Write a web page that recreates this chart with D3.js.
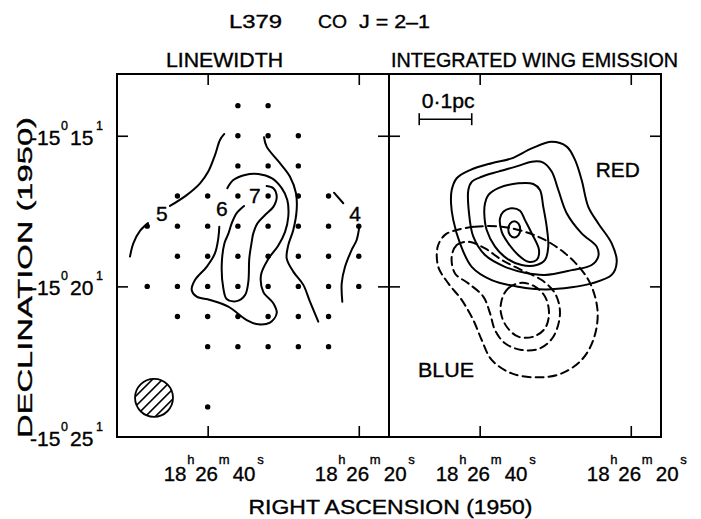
<!DOCTYPE html>
<html>
<head>
<meta charset="utf-8">
<script src="https://cdn.jsdelivr.net/npm/d3@7"></script>
<style>
  html, body { margin: 0; padding: 0; background: #fff; }
  svg { display: block; }
  text { font-family: "Liberation Sans Narrow", "Liberation Sans", "DejaVu Sans", sans-serif; fill: #000; stroke: #000; stroke-width: 0.35px; }
</style>
</head>
<body>
<div id="chart"></div>
<script>
// ---- data: RA in seconds of 18h26m, Dec in arcmin of -15 deg ----
const raDomain = [52, 16];
const decDomain = [12.95, 25];
const raTicks = [40, 20];
const decTicks = [15, 20];
const decLabels = [15, 20, 25];

// observed positions (linewidth map)
const obsRows = [
  [14, [36, 32]],
  [15, [36, 32, 28]],
  [16, [36, 32, 28]],
  [17, [44, 40, 36, 32, 28, 24]],
  [18, [48, 44, 40, 36, 32, 28, 24, 20]],
  [19, [44, 40, 36, 32, 28, 24, 20]],
  [20, [48, 44, 40, 36, 32, 28, 24, 20]],
  [21, [44, 40, 36, 32, 28, 24]],
  [22, [40, 36, 32, 28, 24]],
  [24, [40]]
];

// linewidth contours (km/s), open pieces split at the labels
const lw5a = [[37.80,14.94],[38.37,15.14],[39.03,15.64],[39.92,16.19],[41.01,16.58],[42.78,16.97],[44.99,17.33]];
const lw5b = [[47.90,17.90],[48.96,18.16],[49.84,18.57],[50.28,19.01]];
const lw5c = [[32.54,15.05],[32.19,15.36],[30.43,15.91],[29.10,16.36],[28.31,16.91],[28.22,17.46],[28.67,18.13],
  [29.33,18.63],[29.54,19.07],[28.67,19.51],[27.34,19.95],[26.46,20.51],[25.36,21.17]];
const lw6 = [[37.40,16.74],[36.61,16.47],[35.06,16.30],[33.30,16.27],[31.53,16.41],[30.20,16.74],[29.46,17.13],
  [29.33,17.69],[29.77,18.20],[30.69,18.66],[31.98,19.09],[32.94,19.62],[32.64,20.18],[31.31,20.56],[30.86,20.89],
  [31.75,21.20],[33.30,21.26],[34.83,21.12],[37.27,20.67],[39.69,20.45],[41.45,20.34],[42.11,20.12],[41.68,19.79],
  [40.13,19.35],[39.03,18.90],[38.59,18.40],[38.46,18.02]];
const lw7 = [[32.19,16.67],[31.31,16.74],[30.86,17.02],[31.31,17.36],[32.41,17.63],[33.43,17.91],[33.96,18.24],
  [34.17,18.52],[34.49,19.07],[34.62,19.85],[35.06,20.29],[36.16,20.49],[37.48,20.42],[37.93,20.06],[38.14,19.29],
  [37.77,18.56],[37.27,18.26],[36.82,17.91],[36.16,17.57],[35.19,17.33]];
const lw4a = [[23.28,16.89],[22.05,17.24]];
const lw4b = [[19.93,18.02],[20.28,18.46],[20.94,18.79],[21.82,19.35],[22.26,19.90],[22.18,20.51]];
const lwLabels = [["5", 46.08, 17.57], ["6", 38.14, 17.41], ["7", 33.74, 16.97], ["4", 20.50, 17.57]];

const beamCentre = [47.10, 23.70];
const beamRadius = 0.63; // arcmin

// integrated wing emission: red (solid) and blue (dashed) lobes
const red1 = [[43.70,16.80],[43.04,16.41],[41.28,16.14],[38.41,15.91],[35.76,15.75],[33.11,15.42],[30.47,15.20],
  [28.48,15.36],[27.38,15.80],[26.50,16.47],[25.62,17.36],[24.30,17.91],[22.53,18.57],[21.86,19.18],[22.53,19.62],
  [25.17,19.90],[27.82,20.03],[31.35,20.10],[34.89,20.01],[38.41,19.79],[41.05,19.35],[42.60,18.57],[43.49,17.80],[43.79,17.24]];
const red2 = [[41.50,16.80],[41.05,16.53],[39.73,16.36],[37.53,16.19],[34.89,16.00],[33.11,15.86],[31.58,15.89],
  [30.47,16.19],[29.59,16.80],[28.48,17.57],[26.50,18.24],[24.51,18.68],[24.30,19.01],[25.17,19.29],[27.82,19.46],
  [31.35,19.62],[34.00,19.55],[36.65,19.35],[39.29,18.96],[40.84,18.35],[41.41,17.57]];
const red3 = [[39.29,17.24],[38.86,16.97],[37.53,16.74],[34.89,16.58],[32.90,16.60],[32.02,16.80],[31.58,17.36],
  [31.13,18.02],[30.92,18.68],[31.35,19.12],[32.45,19.29],[34.44,19.29],[36.42,19.07],[37.97,18.68],[39.07,18.13],[39.39,17.57]];
const red4 = [[37.31,17.74],[36.87,17.52],[35.76,17.41],[34.66,17.49],[34.00,17.80],[33.11,18.24],[32.15,18.79],
  [32.45,19.12],[33.56,19.18],[34.89,18.96],[36.21,18.57],[37.08,18.19]];
const red5 = [[36.21,18.11],[35.98,17.92],[35.42,17.84],[34.86,17.92],[34.63,18.11],[34.86,18.30],[35.42,18.38],[35.98,18.30]];
const blue1 = [[43.04,18.13],[40.62,18.02],[37.08,18.02],[34.00,18.19],[31.35,18.46],[28.71,18.90],[26.50,19.46],
  [25.17,20.01],[24.38,20.89],[24.96,21.78],[26.50,22.44],[29.14,22.89],[32.24,23.02],[35.76,22.89],[38.41,22.44],
  [39.73,21.78],[40.84,21.12],[42.38,20.45],[44.15,19.90],[45.48,19.35],[45.55,18.68],[44.59,18.29]];
const blue2 = [[43.70,19.01],[43.04,18.63],[41.50,18.52],[39.29,18.74],[37.08,19.12],[34.44,19.46],[31.79,19.79],
  [30.03,20.23],[29.37,20.89],[30.25,21.67],[32.02,22.06],[34.44,22.11],[36.65,21.89],[37.97,21.45],[38.63,20.89],
  [39.52,20.34],[41.50,19.90],[43.26,19.57]];
const blue3 = [[37.08,20.45],[36.21,20.06],[34.44,19.88],[32.68,20.01],[31.35,20.34],[30.82,20.89],[31.35,21.39],
  [32.90,21.67],[34.89,21.67],[36.42,21.34],[37.18,20.89]];
const redContours = [red1, red2, red3, red4, red5];
const blueContours = [blue1, blue2, blue3];

const scaleBarRA = [48.0, 41.05];
const scaleBarDec = 14.45;
const wingLabels = [["RED", 24.64, 16.37, 44], ["BLUE", 48.16, 23.01, 56], ["0\u00b71pc", 47.67, 14.08, 53]];

// ---- layout ----
const W = 701, H = 519;
const panelW = 272, panelH = 363, panelTop = 74;
const panels = [117, 389];

const x = d3.scaleLinear().domain(raDomain).range([0, panelW]);
const y = d3.scaleLinear().domain(decDomain).range([0, panelH]);

const openLine = d3.line().x(d => x(d[0])).y(d => y(d[1])).curve(d3.curveCatmullRom.alpha(0.5));
const closedLine = d3.line().x(d => x(d[0])).y(d => y(d[1])).curve(d3.curveCatmullRomClosed.alpha(0.5));

const svg = d3.select('#chart').append('svg').attr('width', W).attr('height', H);

function addText(parent, str, px, py, size, width, anchor) {
  const t = parent.append('text')
    .attr('x', px).attr('y', py)
    .style('font-size', size + 'px')
    .attr('text-anchor', anchor || 'start')
    .text(str);
  if (width) t.attr('textLength', width).attr('lengthAdjust', 'spacingAndGlyphs');
  return t;
}

// one text element, pieces placed with absolute x; superscripts raised
function richText(parent, py, pieces, mainSize, supSize, rise) {
  const t = parent.append('text').attr('y', py).style('font-size', mainSize + 'px');
  let raised = false;
  pieces.forEach(([s, px, sup]) => {
    const dy = sup === raised ? 0 : (sup ? -rise : rise);
    raised = sup;
    t.append('tspan').attr('x', px).attr('dy', dy)
      .style('font-size', (sup ? supSize : mainSize) + 'px').text(s);
  });
  return t;
}

function drawFrame(g) {
  const axes = [
    [d3.axisTop(x).tickValues(raTicks), 0, 0],
    [d3.axisBottom(x).tickValues(raTicks), 0, panelH],
    [d3.axisLeft(y).tickValues(decTicks), 0, 0],
    [d3.axisRight(y).tickValues(decTicks), panelW, 0]
  ];
  axes.forEach(([ax, tx, ty]) => {
    const a = g.append('g')
      .attr('transform', `translate(${tx},${ty})`)
      .call(ax.tickSize(-11).tickFormat(''));
    a.select('.domain').remove();
    a.selectAll('text').remove();
    a.selectAll('line').attr('stroke', '#000').attr('stroke-width', 1.6);
  });
  g.append('rect')
    .attr('width', panelW).attr('height', panelH)
    .attr('fill', 'none').attr('stroke', '#000').attr('stroke-width', 2);
}

function contour(g, pts, closed, dashed) {
  g.append('path')
    .attr('d', closed ? closedLine(pts) : openLine(pts))
    .attr('fill', 'none')
    .attr('stroke', '#000')
    .attr('stroke-width', 2)
    .attr('stroke-linecap', 'round')
    .attr('stroke-dasharray', dashed ? '8 5' : null);
}

// ---- titles ----
addText(svg, 'L379', 229, 28.3, 17.5, 53);
addText(svg, 'CO', 318, 28.3, 17.5, 29);
addText(svg, 'J = 2\u20131', 359, 28.3, 17.5, 71);
addText(svg, 'LINEWIDTH', 166, 66.7, 19.5, 117);
addText(svg, 'INTEGRATED WING EMISSION', 391, 66.7, 19.5, 287);
addText(svg, 'RIGHT  ASCENSION  (1950)', 248.5, 514, 19.5, 284);
addText(svg, 'DECLINATION  (1950)', 0, 0, 20, 321, 'middle')
  .attr('transform', 'translate(32,277.5) rotate(-90)');

// ---- left panel: linewidth ----
const gL = svg.append('g').attr('transform', `translate(${panels[0]},${panelTop})`);
drawFrame(gL);

obsRows.forEach(([dec, ras]) => {
  gL.selectAll(null).data(ras).enter().append('circle')
    .attr('cx', d => x(d)).attr('cy', y(dec)).attr('r', 2.7).attr('fill', '#000');
});

[lw5a, lw5b, lw5c, lw6, lw7, lw4a, lw4b].forEach(c => contour(gL, c, false, false));

lwLabels.forEach(([s, ra, dec]) => {
  addText(gL, s, x(ra), y(dec), 21, null, 'middle').attr('dominant-baseline', 'central');
});

// beam (hatched)
const bx = x(beamCentre[0]), by = y(beamCentre[1]);
const br = y(decDomain[0] + beamRadius) - y(decDomain[0]);
svg.append('defs').append('clipPath').attr('id', 'beamClip')
  .append('circle').attr('cx', bx).attr('cy', by).attr('r', br);
const hatch = gL.append('g').attr('clip-path', 'url(#beamClip)');
[-2, -1, 0, 1, 2].forEach(k => {
  const o = k * 10;
  hatch.append('line')
    .attr('x1', bx - br + o / 2 - 5).attr('y1', by + br + o / 2 + 5)
    .attr('x2', bx + br + o / 2 + 5).attr('y2', by - br + o / 2 - 5)
    .attr('stroke', '#000').attr('stroke-width', 1.6);
});
gL.append('circle').attr('cx', bx).attr('cy', by).attr('r', br)
  .attr('fill', 'none').attr('stroke', '#000').attr('stroke-width', 1.8);

// ---- right panel: wing emission ----
const gR = svg.append('g').attr('transform', `translate(${panels[1]},${panelTop})`);
drawFrame(gR);
redContours.forEach(c => contour(gR, c, true, false));
blueContours.forEach(c => contour(gR, c, true, true));

// scale bar
const sb = gR.append('g').attr('stroke', '#000').attr('stroke-width', 1.6);
sb.append('line').attr('x1', x(scaleBarRA[0])).attr('x2', x(scaleBarRA[1]))
  .attr('y1', y(scaleBarDec)).attr('y2', y(scaleBarDec));
scaleBarRA.forEach(r => sb.append('line').attr('x1', x(r)).attr('x2', x(r))
  .attr('y1', y(scaleBarDec) - 6).attr('y2', y(scaleBarDec) + 6));

wingLabels.forEach(([s, ra, dec, w]) => addText(gR, s, x(ra), y(dec), 19.5, w));

// ---- tick labels ----
panels.forEach(left => raTicks.forEach(r => {
  const px = left + x(r);
  richText(svg, 480.7, [
    ['18', px - 44, false], ['h', px - 20.5, true], ['26', px - 12.5, false],
    ['m', px + 11, true], [String(r), px + 25, false], ['s', px + 49.5, true]
  ], 20.5, 13, 17);
}));

decLabels.forEach(d => {
  const py = panelTop + y(d);
  richText(svg, py + 9, [
    ['-15', 30, false], ['0', 61, true], [String(d), 70, false], ['1', 96, true]
  ], 21, 12.5, 15);
});
</script>
</body>
</html>
